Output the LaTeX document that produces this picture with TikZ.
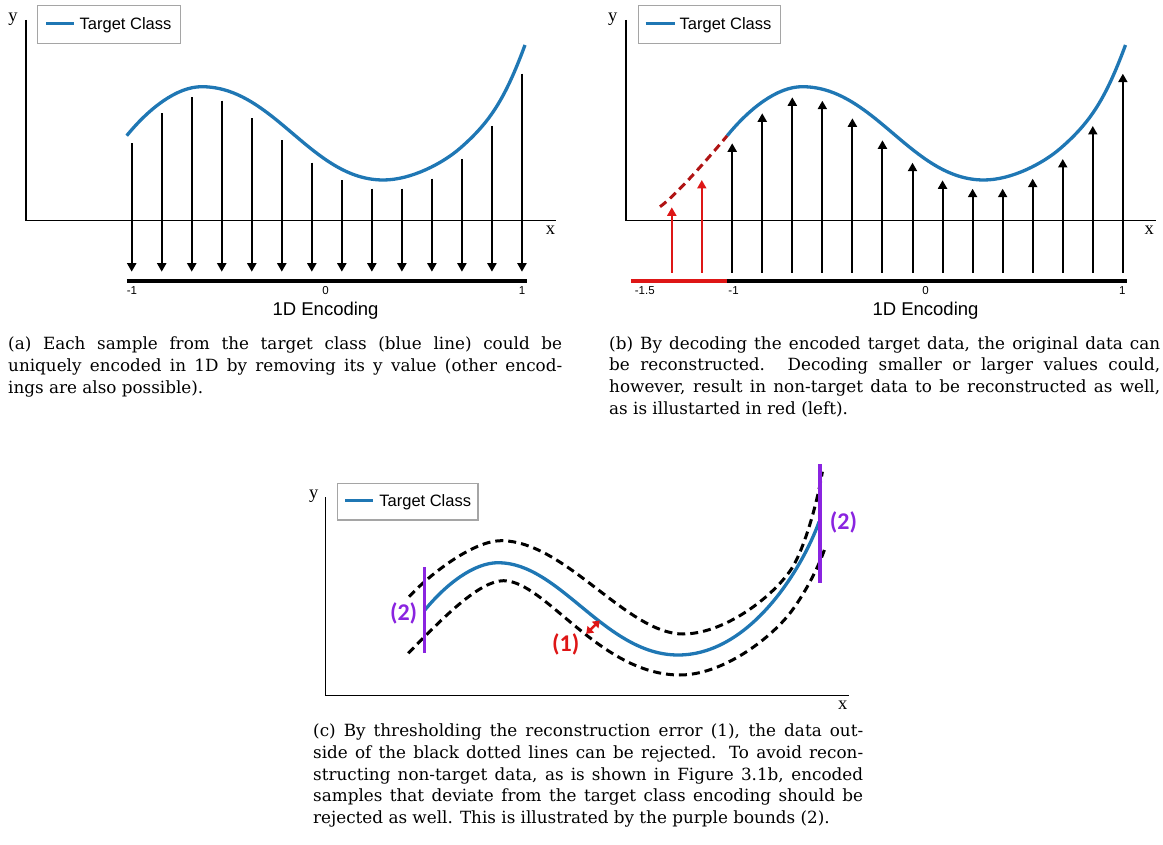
\documentclass[tikz,border=0pt]{standalone}
\usepackage{fontspec}
\setmainfont{DejaVu Serif}
\newfontfamily\lsans{Liberation Sans}
\newfontfamily\lserif{Liberation Serif}
\newfontfamily\carl{Carlito}
\usetikzlibrary{arrows.meta}
\definecolor{tblue}{RGB}{31,119,180}
\definecolor{tred}{RGB}{222,22,22}
\definecolor{dred}{RGB}{176,20,20}
\definecolor{tpurple}{RGB}{138,36,224}
\definecolor{lgray}{RGB}{165,165,165}
\newcommand\jline[2]{\makebox[#1][s]{#2}}
\begin{document}
\begin{tikzpicture}[x=1pt,y=-1pt,
  axis/.style={line width=1.5pt},
  tcurve/.style={draw=tblue, line width=3.3pt},
  stem/.style={line width=2pt, -{Triangle[width=9pt,length=8.5pt]}},
  redstem/.style={stem, tred},
  encbar/.style={line width=3.7pt},
  legbox/.style={draw=lgray, line width=1.2pt, fill=white, inner sep=0, anchor=north west},
  legline/.style={tblue, line width=3pt},
  legtxt/.style={font=\lsans\fontsize{16.5}{18}\selectfont, inner sep=0, anchor=base west},
  ticklab/.style={font=\lsans\fontsize{11.5}{12}\selectfont, inner sep=0, anchor=base},
  enclab/.style={font=\lsans\fontsize{18.5}{20}\selectfont, inner sep=0, anchor=base},
  axlab/.style={font=\lserif\fontsize{18.5}{20}\selectfont, inner sep=0, anchor=base},
  captxt/.style={font=\fontsize{16.8}{20}\selectfont, inner sep=0, anchor=base west},
  thrdash/.style={line width=3pt, dash pattern=on 8pt off 5pt},
  reddash/.style={dred, line width=3pt, dash pattern=on 8pt off 5pt},
  bound/.style={draw=tpurple, line width=3.5pt},
  boundlab/.style={font=\carl\bfseries\fontsize{24}{26}\selectfont, inner sep=0}
]
\useasboundingbox (0,0) rectangle (1163,845);

% ================= panel (a) =================
\draw[axis] (25.9,20) -- (25.9,220.7) -- (555.7,220.7);
\node[axlab] (aylab) at (13,21.7) {y};
\node[axlab] (axlab) at (550.5,235) {x};
\node[legbox, minimum width=142.8pt, minimum height=37.4pt] (alegbox) at (37,5.3) {};
\draw[legline] (46.2,24) -- (74,24);
\node[legtxt] (alegtxt) at (79.5,29.5) {Target Class};
\begin{scope}[shift={(131.7,0)}]
\draw[tcurve] (-5,135.7) .. controls (17,108.7) and (45,86.7) .. (70,86.7)
  .. controls (141.8,86.7) and (179.8,180) .. (251.6,180)
  .. controls (279.6,180) and (311.3,163.1) .. (328.3,148.3)
  .. controls (358.3,122.2) and (373.3,99) .. (393.3,45);
\end{scope}
\foreach \i/\t in {0/143.3,1/113.3,2/97.3,3/100.7,4/118.3,5/140.3,6/162.7,7/180.3,8/188.7,9/188.7,10/178.7,11/159,12/126,13/73.7}
  \draw[stem] ({131.7+30.02*\i},\t) -- ({131.7+30.02*\i},271.7);
\draw[encbar] (126.9,281) -- (526.5,281);
\node[ticklab] (atm1) at (132,295) {-1};
\node[ticklab] (at0) at (325.6,295) {0};
\node[ticklab] (atp1) at (522,295) {1};
\node[enclab] (aenc) at (325.6,316) {1D Encoding};

% ================= panel (b) =================
\draw[axis] (625.8,20) -- (625.8,220.7) -- (1155.8,220.7);
\node[axlab] (bylab) at (612.7,21.7) {y};
\node[axlab] (bxlab) at (1149.2,235) {x};
\node[legbox, minimum width=142.2pt, minimum height=37.4pt] (blegbox) at (637.5,5.3) {};
\draw[legline] (645.6,24) -- (674.8,24);
\node[legtxt] (blegtxt) at (679.5,29.5) {Target Class};
\begin{scope}[shift={(732.2,0)}]
\draw[reddash] (-72.2,206.7) .. controls (-57.2,196.2) and (-25,159.7) .. (-5,135.7);
\draw[tcurve] (-5,135.7) .. controls (17,108.7) and (45,86.7) .. (70,86.7)
  .. controls (141.8,86.7) and (179.8,180) .. (251.6,180)
  .. controls (279.6,180) and (311.3,163.1) .. (328.3,148.3)
  .. controls (358.3,122.2) and (373.3,99) .. (393.3,45);
\end{scope}
\foreach \i/\t in {0/143.3,1/113.3,2/97.3,3/100.7,4/118.3,5/140.3,6/162.7,7/180.3,8/188.7,9/188.7,10/178.7,11/159,12/126,13/73.7}
  \draw[stem] ({732.2+30.05*\i},272.7) -- ({732.2+30.05*\i},\t);
\draw[redstem] (671.8,272.7) -- (671.8,207.3);
\draw[redstem] (701.8,272.7) -- (701.8,180);
\draw[encbar, tred] (630.9,281) -- (726.7,281);
\draw[encbar] (726.7,281) -- (1126.5,281);
\node[ticklab] (btm15) at (644.8,295) {-1.5};
\node[ticklab] (btm1) at (733.6,295) {-1};
\node[ticklab] (bt0) at (925.5,295) {0};
\node[ticklab] (btp1) at (1122.2,295) {1};
\node[enclab] (benc) at (925.5,316) {1D Encoding};

% ================= captions (a), (b) =================
\node[captxt] (ca1) at (8,349) {\jline{554pt}{(a) Each sample from the target class (blue line) could be}};
\node[captxt] (ca2) at (8,371) {\jline{554pt}{uniquely encoded in 1D by removing its y value (other encod-}};
\node[captxt] (ca3) at (8,393) {ings are also possible).};
\node[captxt] (cb1) at (609,349) {\jline{551pt}{(b) By decoding the encoded target data, the original data can}};
\node[captxt] (cb2) at (609,370.7) {\jline{551pt}{be reconstructed. Decoding smaller or larger values could,}};
\node[captxt] (cb3) at (609,392.7) {\jline{551pt}{however, result in non-target data to be reconstructed as well,}};
\node[captxt] (cb4) at (609,414.3) {as is illustarted in red (left).};

% ================= panel (c) =================
\draw[axis] (325.4,497.3) -- (325.4,695.7) -- (848.9,695.7);
\node[axlab] (cylab) at (313.8,498.7) {y};
\node[axlab] (cxlab) at (842.7,709) {x};
\node[legbox, minimum width=140.3pt, minimum height=36.6pt] (clegbox) at (337.1,482.7) {};
\draw[legline] (345.4,500.5) -- (372.7,500.5);
\node[legtxt] (clegtxt) at (379.2,506) {Target Class};
\draw[thrdash] (409.1,596.7) .. controls (433,571) and (475,540.7) .. (501,540.7)
  .. controls (565,540.7) and (627,634) .. (683,634)
  .. controls (723,634) and (770.7,599) .. (790.7,570)
  .. controls (802.7,552.6) and (816.4,507.7) .. (822.4,471.7);
\draw[thrdash] (408.3,653.3) .. controls (445,615.5) and (480,580.7) .. (503.6,580.7)
  .. controls (545,580.7) and (600,675) .. (680,675)
  .. controls (720,675) and (765.1,642.7) .. (787.1,616.7)
  .. controls (800.1,601.4) and (817.3,571.3) .. (825.3,547.3);
\draw[tcurve] (424.3,610.7) .. controls (446,584) and (474,562.7) .. (498.1,562.7)
  .. controls (560,562.7) and (605,655) .. (678,655)
  .. controls (750,655) and (802,569) .. (819.1,521.7);
\draw[bound] (424.3,567.3) -- (424.3,652.7);
\draw[bound] (819.8,464) -- (819.8,582.7);
\node[boundlab, text=tpurple] (b2l) at (403.6,613.3) {(2)};
\node[boundlab, text=tpurple] (b2r) at (843.4,522.5) {(2)};
\node[boundlab, text=tred] (e1) at (565.8,644.7) {(1)};
\draw[tred, line width=2.4pt, {Triangle[width=9pt,length=6.5pt]}-{Triangle[width=9pt,length=6.5pt]}] (586.2,633.8) -- (599.8,620.5);

% ================= caption (c) =================
\node[captxt] (cc1) at (313,736.7) {\jline{550pt}{(c) By thresholding the reconstruction error (1), the data out-}};
\node[captxt] (cc2) at (313,758.3) {\jline{550pt}{side of the black dotted lines can be rejected. To avoid recon-}};
\node[captxt] (cc3) at (313,780) {\jline{550pt}{structing non-target data, as is shown in Figure 3.1b, encoded}};
\node[captxt] (cc4) at (313,801.7) {\jline{550pt}{samples that deviate from the target class encoding should be}};
\node[captxt] (cc5) at (313,823.3) {rejected as well. This is illustrated by the purple bounds (2).};
\end{tikzpicture}
\end{document}
